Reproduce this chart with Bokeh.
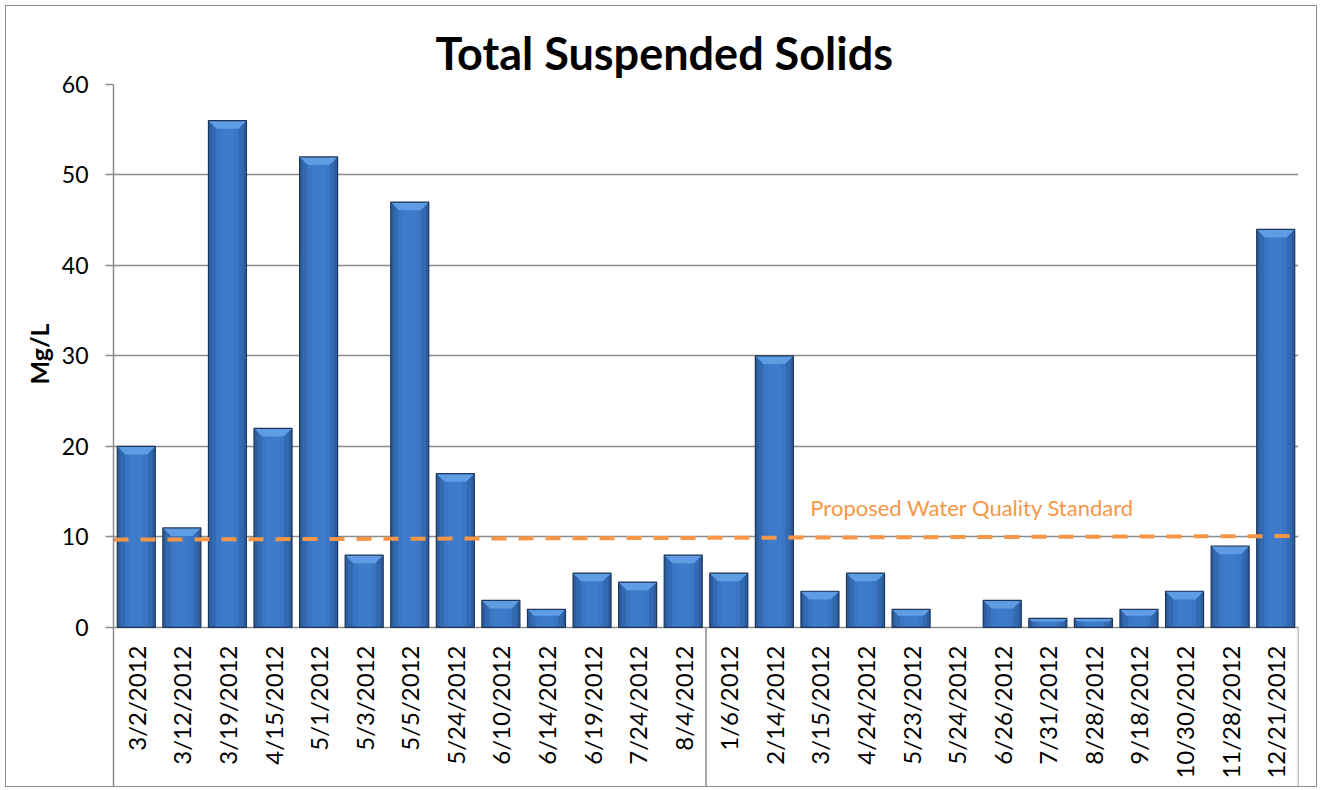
import math
from bokeh.plotting import figure
from bokeh.models import Range1d, FixedTicker, Title, ColumnDataSource
from bokeh.core.properties import value
from bokeh.embed import file_html
from bokeh.resources import INLINE

# ---- data ----
dates = ["3/2/2012", "3/12/2012", "3/19/2012", "4/15/2012", "5/1/2012", "5/3/2012",
         "5/5/2012", "5/24/2012", "6/10/2012", "6/14/2012", "6/19/2012", "7/24/2012",
         "8/4/2012", "1/6/2012", "2/14/2012", "3/15/2012", "4/24/2012", "5/23/2012",
         "5/24/2012", "6/26/2012", "7/31/2012", "8/28/2012", "9/18/2012", "10/30/2012",
         "11/28/2012", "12/21/2012"]
tss = [20, 11, 56, 22, 52, 8, 47, 17, 3, 2, 6, 5, 8,
       6, 30, 4, 6, 2, 0, 3, 1, 1, 2, 4, 9, 44]
group_sizes = [13, 13]
standard_start = 9.7
standard_end = 10.1
y_ticks = [0, 10, 20, 30, 40, 50, 60]
title_text = "Total Suspended Solids"
y_label = "Mg/L"
standard_label = "Proposed Water Quality Standard"

FONT = "Lato"
n = len(dates)
xs = [i + 0.5 for i in range(n)]
Y0 = -17.8

W, H = 1312, 782
p = figure(width=W, height=H, output_backend="svg", toolbar_location=None,
           x_range=Range1d(0, n), y_range=Range1d(Y0, 60),
           min_border_left=107, min_border_right=20, min_border_top=78,
           min_border_bottom=0)
p.styles = {"border": "1px solid #8c8c8c", "margin-left": "5px", "margin-top": "5px"}
p.outline_line_color = None
p.xaxis.visible = False
p.xgrid.visible = False
p.background_fill_color = "white"
p.border_fill_color = "white"

# y axis
ya = p.yaxis[0]
ya.ticker = FixedTicker(ticks=y_ticks)
ya.major_tick_out = 8
ya.major_tick_in = 0
ya.minor_tick_line_color = None
ya.axis_line_color = "#8c8c8c"
ya.axis_line_width = 1.5
ya.major_tick_line_color = "#8c8c8c"
ya.major_tick_line_width = 1.5
ya.major_label_text_font = FONT
ya.major_label_text_font_size = "23px"
ya.major_label_text_color = "black"
ya.major_label_standoff = 17
p.ygrid.ticker = FixedTicker(ticks=y_ticks)
p.ygrid.grid_line_color = "#8c8c8c"
p.ygrid.grid_line_width = 1.5

# title
p.title.text = title_text
p.title.text_font = FONT
p.title.text_font_style = "bold"
p.title.text_font_size = "45px"
p.title.text_color = "black"
p.title.align = "left"
p.title.offset = 322
p.title.standoff = 10

# y label as a left-side title (placed beside the 0-60 part)
p.add_layout(Title(text=y_label, align="left", offset=404, standoff=10,
                   text_font=FONT, text_font_style="bold", text_font_size="25px",
                   text_color="black"), "left")

# bars (layered for shading)
src = ColumnDataSource(dict(x=xs, top=tss))
p.vbar(x="x", top="top", width=0.834, bottom=0, source=src,
       fill_color="#2C5E9F", line_color=None)
p.vbar(x="x", top="top", width=0.70, bottom=0, source=src,
       fill_color="#3369B1", line_color=None)
p.vbar(x="x", top="top", width=0.50, bottom=0, source=src,
       fill_color="#3A76C4", line_color=None)
p.vbar(x="x", top="top", width=0.30, bottom=0, source=src,
       fill_color="#3D7BCB", line_color=None)

# top bevel
px_per_y = 9.05
px_per_x = 45.58
bx, by = [], []
for x, v in zip(xs, tss):
    if v <= 0:
        continue
    d = min(0.9, 0.35 * v)
    b = d * px_per_y / px_per_x
    hw = 0.834 / 2
    bx.append([x - hw, x + hw, x + hw - b, x - hw + b])
    by.append([v, v, v - d, v - d])
p.patches(bx, by, fill_color="#5E9CE4", line_color=None)

# bar outline
p.vbar(x="x", top="top", width=0.834, bottom=0, source=ColumnDataSource(
    dict(x=[x for x, v in zip(xs, tss) if v > 0], top=[v for v in tss if v > 0])),
       fill_alpha=0, line_color="#1C3558", line_width=1.2)

# group separators below axis
seps = []
acc = 0
for g in group_sizes:
    acc += g
    seps.append(acc)
p.segment(x0=seps, y0=[0] * len(seps), x1=seps, y1=[Y0] * len(seps),
          line_color="#8c8c8c", line_width=1.5)

# x labels
p.text(x=xs, y=[-2.0] * n, text=dates, angle=math.pi / 2,
       text_align="right", text_baseline="middle",
       text_font=value(FONT), text_font_size="24px", text_color="black")

# standard line
p.line(x=[0, n], y=[standard_start, standard_end], line_color="#F79646",
       line_width=4, line_dash="15 12")
p.text(x=[15.29], y=[13.26], text=[standard_label], text_align="left",
       text_baseline="middle", text_font=value(FONT), text_font_size="22px",
       text_color="#F79646")

open("out.html", "w").write(file_html(p, INLINE))
